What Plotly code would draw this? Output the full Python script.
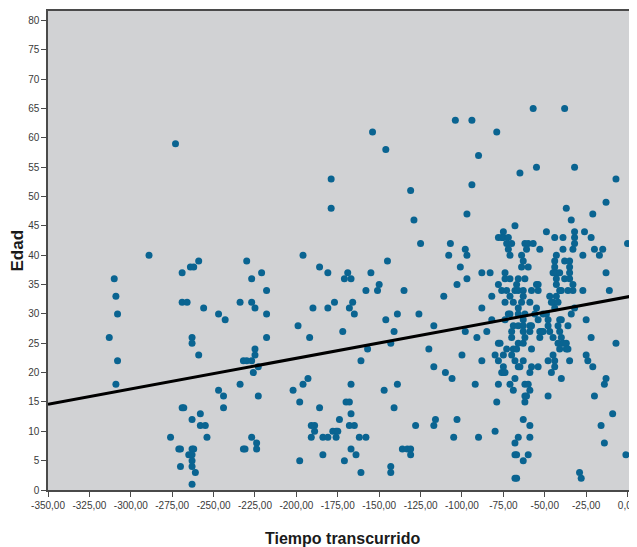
import plotly.graph_objects as go

# ---- Data (Tiempo transcurrido, Edad) ----
left_tiempo = [-289, -310, -309, -308, -313, -308, -309, -273, -269, -264, -262, -259, -269, -266,
               -256, -263, -263, -259, -269, -268, -263, -258, -258, -255, -276, -254, -271, -270,
               -263, -262, -265, -263, -263, -270, -263, -261, -263, -247, -247]
left_edad = [40, 36, 33, 30, 26, 22, 18, 59, 37, 38, 38, 39, 32, 32,
             31, 26, 25, 23, 14, 14, 12, 13, 11, 11, 9, 9, 7, 7,
             7, 7, 6, 6, 5, 4, 4, 3, 1, 30, 17]

mid_tiempo = [-230, -196, -186, -181, -169, -171, -167, -155, -145, -227, -221, -218, -234, -227,
              -225, -243, -218, -218, -225, -225, -232, -230, -227, -223, -226, -234, -244, -244,
              -223, -227, -224, -232, -231, -224,
              -199, -192, -190, -181, -177, -168, -166, -165, -172, -158, -151, -150, -135, -146,
              -139, -141, -143, -157, -161, -126,
              -193, -196, -202, -198, -186, -167, -170, -168, -167, -174, -168, -165, -191, -189,
              -189, -191, -184, -181, -178, -176, -175, -176, -162, -158, -167, -164, -184, -198,
              -171, -161,
              -147, -139, -141, -143, -143, -136, -133, -131, -131, -128]
mid_edad = [39, 40, 38, 37, 37, 36, 36, 37, 39, 36, 37, 34, 32, 32,
            31, 29, 30, 26, 24, 23, 22, 22, 22, 21, 20, 18, 16, 14,
            16, 9, 8, 7, 7, 7,
            28, 26, 31, 31, 32, 31, 32, 30, 27, 34, 34, 35, 34, 29,
            30, 27, 25, 24, 22, 30,
            19, 18, 17, 15, 14, 18, 15, 15, 13, 12, 11, 11, 11, 11,
            10, 9, 9, 9, 10, 10, 10, 9, 9, 9, 7, 6, 6, 5,
            5, 3,
            17, 18, 14, 4, 3, 7, 7, 7, 6, 11]

upper_tiempo = [-154, -146, -179, -179, -131, -129, -125,
                -57, -38, -104, -94, -79, -90, -55, -32, -65, -7, -94, -13, -37, -97, -21, -34, -68,
                -107, -98, -97, -108, -75, -78, -76, -75, -72, -73, -70, -72, -71, -64, -62, -60,
                -57, -61, -53, -49, -44, -39, -32, -32, -32, -26, -22, 0, -39, -33, -20, -15,
                -43, -27, -17]
upper_edad = [61, 58, 53, 48, 51, 46, 42,
              65, 65, 63, 63, 61, 57, 55, 55, 54, 53, 52, 49, 48, 47, 47, 46, 45,
              42, 41, 40, 40, 44, 43, 43, 43, 43, 42, 42, 41, 40, 40, 42, 42,
              42, 41, 41, 44, 43, 43, 44, 43, 42, 44, 43, 42, 41, 41, 41, 41,
              40, 40, 40]

dense_tiempo = [-63, -44, -38, -35,
                -101, -64, -60, -44, -35,
                -88, -83, -74, -45, -43, -41, -35, -13,
                -97, -74, -71, -66, -62, -43, -38, -35,
                -103, -78, -67, -55, -54, -43, -33,
                -76, -73, -68, -66, -63, -58, -54, -41, -40, -36, -33, -27, -11,
                -111, -82, -71, -63, -47, -43,
                -74, -69, -64, -59, -46, -45, -42,
                -88, -66, -55, -44, -32,
                -72, -71, -66, -62, -56, -51, -49, -34,
                -82, -74, -63, -54, -48, -41, -40, -25,
                -117, -69, -66, -63, -59, -58, -48, -42, -36,
                -98, -85, -70, -63, -59, -53, -52, -51, -47, -41,
                -91, -70, -62, -53, -45, -40, -22,
                -78, -77, -66, -63, -42, -39, -37, -7,
                -120, -73, -69, -67, -58, -41, -37, -36,
                -100, -80, -75, -70, -45, -25,
                -88, -78, -68, -63, -48, -44, -35, -24,
                -117, -75, -66, -65, -58, -54, -44, -21,
                -110, -76, -75, -74, -59, -46,
                -106, -68, -40, -13,
                -92, -78, -71, -62, -60, -14,
                -69, -59,
                -62, -61, -48, -20,
                -79, -62,
                -9,
                -116, -103, -63,
                -117, -59, -16,
                -80,
                -105, -90, -66, -59,
                -68, -14,
                -68, -67, -60, -1,
                -63,
                -29,
                -68, -67, -28]
dense_edad = [39, 39, 39, 39,
              38, 38, 38, 38, 38,
              37, 37, 37, 37, 37, 37, 37, 37,
              36, 36, 36, 36, 36, 36, 36, 36,
              35, 35, 35, 35, 35, 35, 35,
              34, 34, 34, 34, 34, 34, 34, 34, 34, 34, 34, 34, 34,
              33, 33, 33, 33, 33, 33,
              32, 32, 32, 32, 32, 32, 32,
              31, 31, 31, 31, 31,
              30, 30, 30, 30, 30, 30, 30, 30,
              29, 29, 29, 29, 29, 29, 29, 29,
              28, 28, 28, 28, 28, 28, 28, 28, 28,
              27, 27, 27, 27, 27, 27, 27, 27, 27, 27,
              26, 26, 26, 26, 26, 26, 26,
              25, 25, 25, 25, 25, 25, 25, 25,
              24, 24, 24, 24, 24, 24, 24, 24,
              23, 23, 23, 23, 23, 23,
              22, 22, 22, 22, 22, 22, 22, 22,
              21, 21, 21, 21, 21, 21, 21, 21,
              20, 20, 20, 20, 20, 20,
              19, 19, 19, 19,
              18, 18, 18, 18, 18, 18,
              17, 17,
              16, 16, 16, 16,
              15, 15,
              13,
              12, 12, 12,
              11, 11, 11,
              10,
              9, 9, 9, 9,
              8, 8,
              6, 6, 6, 6,
              5,
              3,
              2, 2, 2]

# Regression line parameters (Edad = intercept + slope * Tiempo)
fit_intercept = 32.9
fit_slope = 0.0523

x_range = [-350, 5.7]
y_range = [0, 81.6]

x_tick_vals = [-350, -325, -300, -275, -250, -225, -200, -175, -150, -125, -100, -75, -50, -25, 0]
x_tick_text = ["-350,00", "-325,00", "-300,00", "-275,00", "-250,00", "-225,00", "-200,00",
               "-175,00", "-150,00", "-125,00", "-100,00", "-75,00", "-50,00", "-25,00", "0,00"]
y_tick_vals = list(range(0, 81, 5))

tiempo = left_tiempo + mid_tiempo + upper_tiempo + dense_tiempo
edad = left_edad + mid_edad + upper_edad + dense_edad

fig = go.Figure()
fig.add_trace(go.Scatter(
    x=tiempo, y=edad, mode="markers",
    marker=dict(color="#0A6491", size=7, line=dict(width=0)),
    showlegend=False, hoverinfo="x+y"))

line_x = x_range
line_y = [fit_intercept + fit_slope * v for v in line_x]
fig.add_trace(go.Scatter(
    x=line_x, y=line_y, mode="lines",
    line=dict(color="black", width=3), showlegend=False, hoverinfo="skip"))

tick_font = dict(family="Liberation Sans Narrow, Liberation Sans, Arial, sans-serif", size=10, color="#3a3a3a")

fig.update_xaxes(range=x_range, tickvals=x_tick_vals, ticktext=x_tick_text,
                 showgrid=False, zeroline=False, showline=True, linecolor="#4a4a4a", linewidth=1.5,
                 mirror=True, ticks="outside", ticklen=5, tickcolor="#4a4a4a", tickwidth=1.3,
                 tickfont=tick_font, automargin=False)
fig.update_yaxes(range=y_range, tickvals=y_tick_vals,
                 showgrid=False, zeroline=False, showline=True, linecolor="#4a4a4a", linewidth=1.5,
                 ticks="outside", ticklen=5, tickcolor="#4a4a4a", tickwidth=1.3,
                 tickfont=tick_font, automargin=False)

title_font_y = dict(family="Liberation Sans Narrow, Liberation Sans, Arial, sans-serif", size=17, color="#1a1a1a")
title_font_x = dict(family="Liberation Sans Narrow, Liberation Sans, Arial, sans-serif", size=16, color="#1a1a1a")
fig.add_annotation(text="<b>Edad</b>", xref="paper", yref="paper", x=0, y=0.5,
                   xshift=-31, xanchor="center", yanchor="middle", textangle=-90,
                   showarrow=False, font=title_font_y)
fig.add_annotation(text="<b>Tiempo transcurrido</b>", xref="paper", yref="paper", x=0.5, y=0,
                   yshift=-48, xanchor="center", yanchor="middle",
                   showarrow=False, font=title_font_x)

# The page body adds an 8px offset; sizes/margins compensate so the plot lands where the reference has it.
fig.update_layout(width=650, height=539, margin=dict(l=40, r=21, t=3, b=57),
                  plot_bgcolor="#D1D2D4", paper_bgcolor="white")

fig.write_html("out.html")
